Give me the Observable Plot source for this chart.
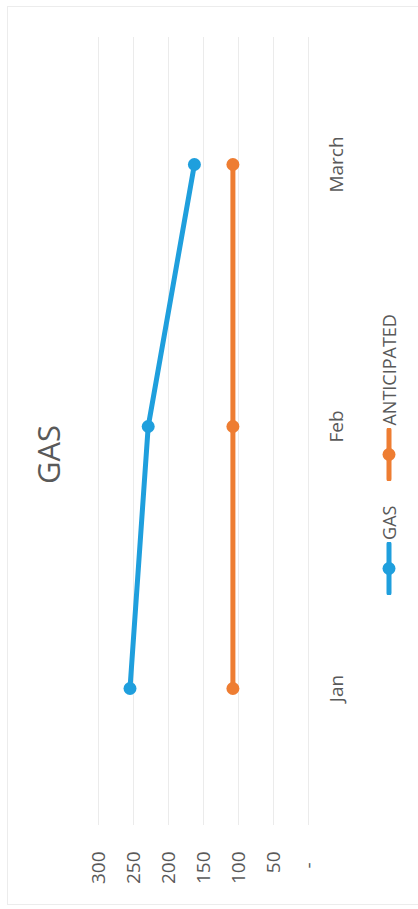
<!DOCTYPE html>
<html>
<head>
<meta charset="utf-8">
<script src="https://cdn.jsdelivr.net/npm/d3@7"></script>
<script src="https://cdn.jsdelivr.net/npm/@observablehq/plot@0.6"></script>
<style>
  html, body { margin: 0; padding: 0; background: #fff; overflow: hidden; }
  body { width: 418px; height: 909px; position: relative; }
  #rot {
    position: absolute; left: 0; top: 0; width: 909px; height: 418px;
    transform-origin: 0 0; transform: translate(0px, 909px) rotate(-90deg);
    font-family: "Open Sans", sans-serif; color: #595959; background: #fff;
  }
  #frame { position: absolute; left: 4px; top: 7px; width: 899px; height: 420px; border: 1px solid #ececec; box-sizing: border-box; }
  #title { position: absolute; left: 0; top: 0; width: 909px; height: 96px; line-height: 96px; text-align: center; font-size: 31px; }
  #chart { position: absolute; left: 0; top: 80px; }
  #legend { position: absolute; left: 0; top: 360px; width: 909px; height: 58px; display: flex; justify-content: center; align-items: center; font-size: 18px; }
  #legend .item { display: flex; align-items: center; }
  #legend .item + .item { margin-left: 25px; }
  #legend .item span { margin-left: 2px; }
</style>
</head>
<body>
<div id="rot">
  <div id="frame"></div>
  <div id="title">GAS</div>
  <div id="chart"></div>
  <div id="legend"></div>
</div>
<script>
const months = ["Jan", "Feb", "March"];
const gasValues = [255, 229, 163];
const anticipatedValues = [108, 108, 108];
const seriesNames = ["GAS", "ANTICIPATED"];
const seriesColors = ["#1f9fdd", "#ee7d32"];
const yTicks = [0, 50, 100, 150, 200, 250, 300];

const data = [];
months.forEach((m, i) => data.push({month: m, value: gasValues[i], series: seriesNames[0]}));
months.forEach((m, i) => data.push({month: m, value: anticipatedValues[i], series: seriesNames[1]}));

const fmt = d => d === 0 ? "-\u2007" : String(d);

const chart = Plot.plot({
  width: 909,
  height: 280,
  marginTop: 18,
  marginBottom: 52,
  marginLeft: 88,
  marginRight: 33,
  style: {fontFamily: "Open Sans, sans-serif", fontSize: "19px", color: "#595959", background: "transparent", overflow: "visible"},
  x: {type: "point", domain: months, padding: 0.5, label: null},
  y: {domain: [0, 300], label: null},
  color: {domain: seriesNames, range: seriesColors},
  marks: [
    Plot.ruleY(yTicks, {stroke: "#ebebeb", strokeWidth: 1, insetLeft: -4, insetRight: 4}),
    Plot.axisY({ticks: yTicks, tickSize: 0, tickPadding: 31, label: null, tickFormat: fmt}),
    Plot.axisX({tickSize: 0, tickPadding: 21, label: null}),
    Plot.line(data, {x: "month", y: "value", z: "series", stroke: "series", strokeWidth: 5, strokeLinecap: "round", strokeLinejoin: "round"}),
    Plot.dot(data, {x: "month", y: "value", fill: "series", r: 6.5})
  ]
});
document.getElementById("chart").appendChild(chart);

const legend = document.getElementById("legend");
seriesNames.forEach((name, i) => {
  const item = document.createElement("div");
  item.className = "item";
  const ns = "http://www.w3.org/2000/svg";
  const svg = document.createElementNS(ns, "svg");
  svg.setAttribute("width", 53);
  svg.setAttribute("height", 16);
  const line = document.createElementNS(ns, "line");
  line.setAttribute("x1", 2); line.setAttribute("x2", 51);
  line.setAttribute("y1", 8); line.setAttribute("y2", 8);
  line.setAttribute("stroke", seriesColors[i]);
  line.setAttribute("stroke-width", 5);
  line.setAttribute("stroke-linecap", "round");
  const c = document.createElementNS(ns, "circle");
  c.setAttribute("cx", 26.5); c.setAttribute("cy", 8); c.setAttribute("r", 6.5);
  c.setAttribute("fill", seriesColors[i]);
  svg.appendChild(line); svg.appendChild(c);
  const span = document.createElement("span");
  span.textContent = name;
  item.appendChild(svg); item.appendChild(span);
  legend.appendChild(item);
});
</script>
</body>
</html>
